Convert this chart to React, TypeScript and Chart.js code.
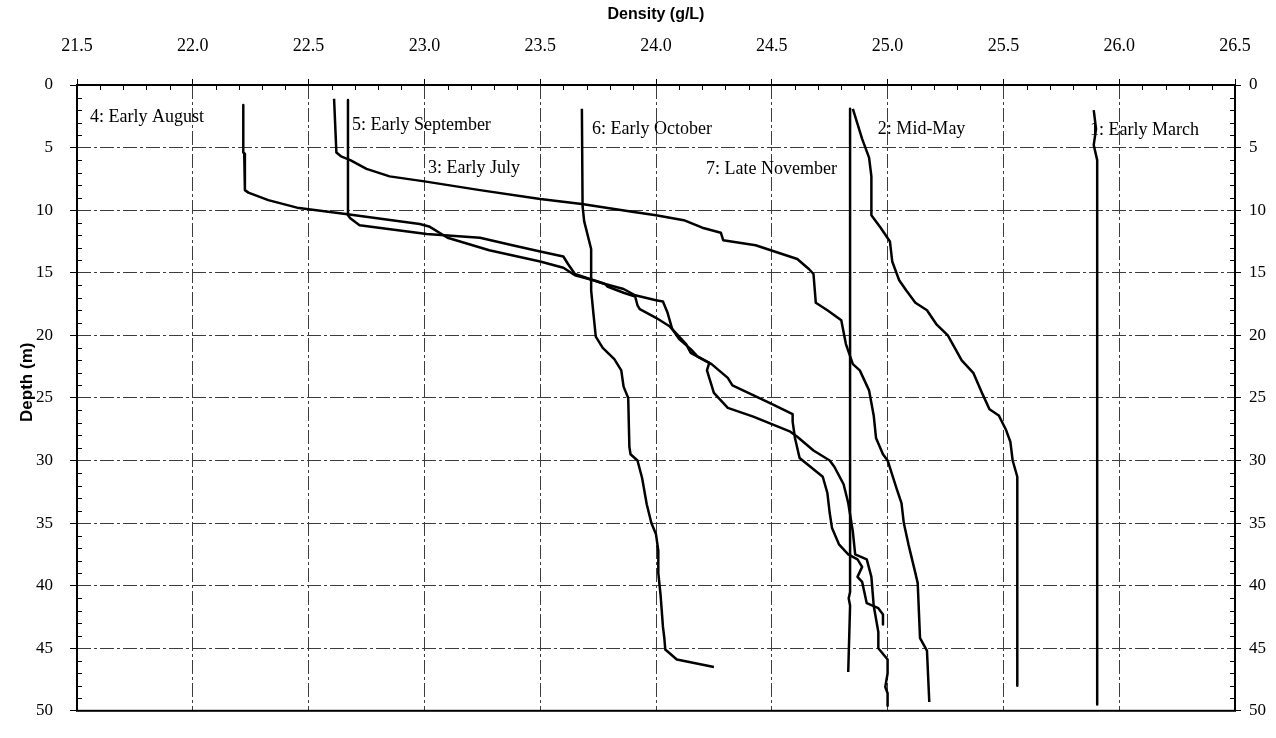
import { useEffect, useRef } from "react";
import { Chart, registerables } from "chart.js";

Chart.register(...registerables);

const SERIF = '"Liberation Serif", "Times New Roman", Times, serif';
const SANS = '"Liberation Sans", Arial, Helvetica, sans-serif';

const xAxisTitle = "Density (g/L)";
const yAxisTitle = "Depth (m)";

// Axis ranges (density on top, depth increasing downward)
const densityMin = 21.5;
const densityMax = 26.5;
const densityStep = 0.5;
const depthMin = 0;
const depthMax = 50;
const depthStep = 5;

// 1: Early March
const marchDensity = [25.89, 25.9, 25.89, 25.905, 25.905];
const marchDepth = [2.0, 3.5, 4.8, 6.0, 49.5];

// 2: Mid-May
const mayDensity = [
  24.85, 24.89, 24.92, 24.93, 24.93, 24.97, 25.01, 25.02, 25.05, 25.08, 25.12,
  25.17, 25.21, 25.26, 25.29, 25.32, 25.37, 25.41, 25.44, 25.48, 25.51, 25.53,
  25.54, 25.56, 25.56,
];
const mayDepth = [
  1.9, 4.3, 5.8, 7.3, 10.4, 11.4, 12.5, 14.1, 15.6, 16.4, 17.4, 18.0, 19.1,
  20.0, 21.0, 22.0, 23.0, 24.7, 25.9, 26.4, 27.5, 28.5, 30.0, 31.3, 48.0,
];

// 3: Early July
const julyDensity = [
  22.61, 22.62, 22.64, 22.68, 22.75, 22.85, 23.0, 23.24, 23.5, 23.68, 23.89,
  24.0, 24.12, 24.2, 24.28, 24.29, 24.43, 24.61, 24.66, 24.68, 24.69, 24.74,
  24.8, 24.82, 24.85, 24.88, 24.92, 24.94, 24.95, 24.98, 25.0, 25.04, 25.06,
  25.07, 25.09, 25.12, 25.13, 25.14, 25.17, 25.18,
];
const julyDepth = [
  1.1, 5.4, 5.7, 6.0, 6.7, 7.3, 7.7, 8.4, 9.1, 9.5, 10.1, 10.4, 10.8, 11.4,
  11.8, 12.4, 12.8, 13.9, 14.7, 15.1, 17.4, 18.0, 18.8, 20.7, 22.3, 22.8, 24.4,
  26.4, 28.2, 29.5, 30.0, 32.3, 33.4, 35.0, 36.7, 39.0, 39.8, 44.2, 45.2, 49.3,
];

// 4: Early August
const augustDensity = [
  22.218, 22.218, 22.222, 22.225, 22.24, 22.326, 22.45, 22.66, 22.98, 23.02,
  23.1, 23.28, 23.5, 23.6, 23.65, 23.73, 23.78, 23.79, 23.86, 23.91, 23.92,
  23.93, 24.0, 24.06, 24.09, 24.13, 24.15, 24.19, 24.23, 24.22, 24.25, 24.31,
  24.42, 24.58, 24.61, 24.68, 24.75, 24.77, 24.81, 24.83, 24.85, 24.86, 24.91,
  24.93, 24.94, 24.96, 24.96, 25.0, 25.0, 24.99, 25.0, 25.0,
];
const augustDepth = [
  1.6, 5.4, 5.5, 8.4, 8.6, 9.2, 9.8, 10.3, 11.1, 11.3, 12.2, 13.2, 14.1, 14.6,
  15.2, 15.6, 15.9, 16.1, 16.6, 16.9, 17.6, 17.9, 18.6, 19.3, 19.9, 20.7, 21.4,
  21.8, 22.2, 22.8, 24.6, 25.8, 26.5, 27.7, 28.1, 29.2, 30.0, 30.5, 31.9, 33.4,
  35.7, 37.5, 37.9, 39.3, 41.6, 43.7, 45.0, 45.9, 47.0, 48.1, 48.6, 49.6,
];

// 5: Early September
const septemberDensity = [
  22.67, 22.67, 22.68, 22.72, 23.01, 23.24, 23.38, 23.5, 23.6, 23.62, 23.65,
  23.73, 23.78, 23.86, 23.91, 24.0, 24.03, 24.05, 24.07, 24.1, 24.15, 24.18,
  24.24, 24.31, 24.33, 24.49, 24.59, 24.59, 24.6, 24.62, 24.72, 24.74, 24.75,
  24.76, 24.79, 24.83, 24.87, 24.89, 24.87, 24.89, 24.91, 24.96, 24.98, 24.98,
];
const septemberDepth = [
  1.2, 10.4, 10.65, 11.2, 11.9, 12.2, 12.8, 13.3, 13.7, 14.3, 15.1, 15.6, 15.9,
  16.3, 16.8, 17.2, 17.3, 18.2, 19.5, 20.3, 21.1, 21.7, 22.3, 23.4, 24.0, 25.4,
  26.3, 26.9, 28.2, 29.8, 31.3, 32.6, 34.2, 35.4, 36.7, 37.5, 37.9, 38.5, 39.3,
  39.7, 41.4, 41.8, 42.3, 43.1,
];

// 6: Early October
const octoberDensity = [
  23.68, 23.683, 23.69, 23.72, 23.72, 23.72, 23.73, 23.74, 23.77, 23.82, 23.85,
  23.86, 23.88, 23.885, 23.89, 23.92, 23.94, 23.96, 23.98, 24.0, 24.01, 24.01,
  24.02, 24.03, 24.036, 24.04, 24.09, 24.25,
];
const octoberDepth = [
  1.9, 9.7, 10.9, 13.1, 14.0, 16.4, 18.3, 20.1, 21.0, 21.9, 22.8, 24.1, 25.0,
  28.9, 29.5, 30.0, 31.4, 33.5, 35.0, 35.9, 37.2, 39.0, 40.8, 43.3, 44.2, 45.1,
  45.9, 46.5,
];

// 7: Late November
const novemberDensity = [24.838, 24.838, 24.832, 24.838, 24.83];
const novemberDepth = [1.9, 40.5, 41.0, 41.6, 46.9];

// Profile labels, anchored at their left edge in data units
const profileLabelText = [
  "4: Early August",
  "5: Early September",
  "3: Early July",
  "6: Early October",
  "7: Late November",
  "2: Mid-May",
  "1: Early March",
];
const profileLabelDensity = [21.556, 22.687, 23.016, 23.724, 24.216, 24.958, 25.874];
const profileLabelDepth = [2.55, 3.25, 6.65, 3.5, 6.75, 3.5, 3.58];

function toPoints(density: number[], depth: number[]) {
  return density.map((d, i) => ({ x: d, y: depth[i] }));
}

const profiles = [
  { name: "1: Early March", density: marchDensity, depth: marchDepth },
  { name: "2: Mid-May", density: mayDensity, depth: mayDepth },
  { name: "3: Early July", density: julyDensity, depth: julyDepth },
  { name: "4: Early August", density: augustDensity, depth: augustDepth },
  { name: "5: Early September", density: septemberDensity, depth: septemberDepth },
  { name: "6: Early October", density: octoberDensity, depth: octoberDepth },
  { name: "7: Late November", density: novemberDensity, depth: novemberDepth },
];

// Text labels next to each profile, drawn under the lines
const profileLabelPlugin = {
  id: "profileLabels",
  beforeDatasetsDraw(chart: any) {
    const { ctx } = chart;
    const x = chart.scales.x;
    const y = chart.scales.y;
    ctx.save();
    ctx.font = `18px ${SERIF}`;
    ctx.fillStyle = "#000";
    ctx.textAlign = "left";
    ctx.textBaseline = "middle";
    profileLabelText.forEach((t, i) => {
      ctx.fillText(t, x.getPixelForValue(profileLabelDensity[i]), y.getPixelForValue(profileLabelDepth[i]));
    });
    ctx.restore();
  },
};

// Minor tick marks on the inside of the frame, the frame itself and the depth title
const framePlugin = {
  id: "frame",
  beforeDatasetsDraw(chart: any) {
    const { ctx, chartArea } = chart;
    const x = chart.scales.x;
    const y = chart.scales.y;
    const len = 5;
    ctx.save();
    ctx.strokeStyle = "#000";
    ctx.lineWidth = 1;
    ctx.beginPath();
    for (let i = 1; i < 50; i++) {
      const v = densityMin + i * 0.1;
      if (i % 5 === 0) continue;
      const px = Math.round(x.getPixelForValue(v)) + 0.5;
      ctx.moveTo(px, chartArea.top);
      ctx.lineTo(px, chartArea.top + len);
    }
    for (let d = depthMin + 1; d < depthMax; d++) {
      if (d % depthStep === 0) continue;
      const py = Math.round(y.getPixelForValue(d)) + 0.5;
      ctx.moveTo(chartArea.left, py);
      ctx.lineTo(chartArea.left + len, py);
      ctx.moveTo(chartArea.right, py);
      ctx.lineTo(chartArea.right - len, py);
    }
    ctx.stroke();
    ctx.restore();
  },
  afterDatasetsDraw(chart: any) {
    const { ctx, chartArea } = chart;
    ctx.save();
    ctx.strokeStyle = "#000";
    ctx.lineWidth = 2;
    ctx.strokeRect(chartArea.left, chartArea.top, chartArea.right - chartArea.left, chartArea.bottom - chartArea.top);
    ctx.restore();
  },
  afterDraw(chart: any) {
    const { ctx, chartArea } = chart;
    ctx.save();
    ctx.font = `bold 17px ${SANS}`;
    ctx.fillStyle = "#000";
    ctx.textAlign = "center";
    ctx.textBaseline = "middle";
    ctx.translate(27, chartArea.top + (chartArea.bottom - chartArea.top) * 0.475);
    ctx.rotate(-Math.PI / 2);
    ctx.fillText(yAxisTitle, 0, 0);
    ctx.restore();
  },
};

const gridColor = "#3c3c3c";
const gridDash = [14, 3, 3, 3];

export default function App() {
  const canvasRef = useRef<HTMLCanvasElement | null>(null);

  useEffect(() => {
    const canvas = canvasRef.current;
    if (!canvas) return;
    const chart = new Chart(canvas, {
      type: "scatter",
      data: {
        datasets: profiles.map((p) => ({
          label: p.name,
          data: toPoints(p.density, p.depth),
          showLine: true,
          borderColor: "#000",
          backgroundColor: "#000",
          borderWidth: 2.5,
          pointRadius: 0,
          pointHoverRadius: 0,
          tension: 0,
          borderJoinStyle: "round" as const,
          borderCapStyle: "butt" as const,
        })),
      },
      options: {
        responsive: false,
        animation: false,
        events: [],
        layout: { padding: { left: 0, right: 0, top: 0, bottom: 7 } },
        plugins: {
          legend: { display: false },
          tooltip: { enabled: false },
          title: { display: false },
        },
        scales: {
          x: {
            type: "linear",
            position: "top",
            min: densityMin,
            max: densityMax,
            afterFit: (scale: any) => {
              scale.height = 85;
            },
            ticks: {
              stepSize: densityStep,
              autoSkip: false,
              maxRotation: 0,
              padding: 22,
              color: "#000",
              font: { family: SERIF, size: 18 },
              callback: (v: any) => Number(v).toFixed(1),
            },
            grid: {
              color: gridColor,
              lineWidth: 1,
              tickLength: 6,
              tickColor: "#000",
              tickWidth: 1,
            },
            border: { display: false, dash: gridDash },
            title: {
              display: true,
              text: xAxisTitle,
              color: "#000",
              font: { family: SANS, size: 16, weight: "bold" },
              padding: { top: 5, bottom: 0 },
            },
          },
          y: {
            type: "linear",
            position: "left",
            reverse: true,
            min: depthMin,
            max: depthMax,
            afterFit: (scale: any) => {
              scale.width = 77;
            },
            ticks: {
              stepSize: depthStep,
              autoSkip: false,
              padding: 17,
              color: "#000",
              font: { family: SERIF, size: 17 },
            },
            grid: {
              color: gridColor,
              lineWidth: 1,
              tickLength: 7,
              tickColor: "#000",
              tickWidth: 1,
            },
            border: { display: false, dash: gridDash },
          },
          y2: {
            type: "linear",
            position: "right",
            reverse: true,
            min: depthMin,
            max: depthMax,
            afterFit: (scale: any) => {
              scale.width = 41;
            },
            ticks: {
              stepSize: depthStep,
              autoSkip: false,
              padding: 8,
              color: "#000",
              font: { family: SERIF, size: 17 },
            },
            grid: {
              drawOnChartArea: false,
              tickLength: 6,
              tickColor: "#000",
              tickWidth: 1,
            },
            border: { display: false },
          },
        },
      },
      plugins: [profileLabelPlugin, framePlugin],
    } as any);
    return () => chart.destroy();
  }, []);

  return (
    <div style={{ position: "fixed", left: 0, top: 0, width: 1276, height: 738, background: "#fff" }}>
      <canvas ref={canvasRef} width={1276} height={738} style={{ display: "block" }} />
    </div>
  );
}
